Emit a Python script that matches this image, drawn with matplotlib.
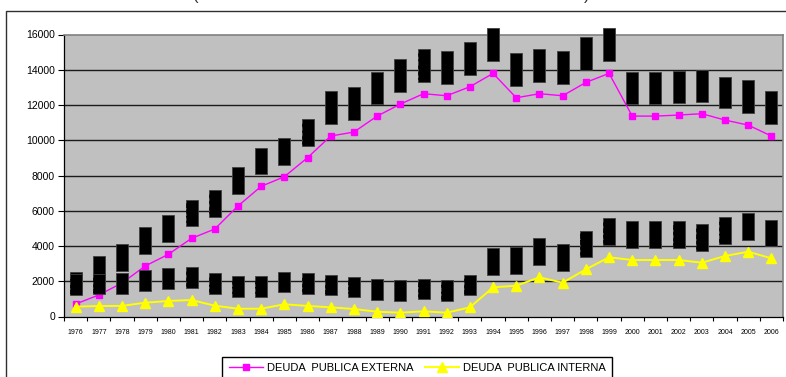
import matplotlib
matplotlib.use("Agg")
import matplotlib.pyplot as plt
from matplotlib.patches import Rectangle
from matplotlib.lines import Line2D

years = list(range(1976, 2007))
externa = [709, 1220, 1900, 2864, 3528, 4435, 4963, 6268, 7385, 7930, 9010,
           10240, 10465, 11370, 12050, 12640, 12525, 13035, 13795, 12410,
           12640, 12525, 13280, 13795, 11370, 11370, 11430, 11505, 11145,
           10860, 10240]
interna = [560, 595, 600, 783, 880, 936, 613, 442, 442, 692, 600, 520, 425,
           272, 216, 295, 216, 520, 1656, 1747, 2223, 1917, 2677, 3358, 3205,
           3205, 3205, 3052, 3432, 3676, 3300]
series_names = ["DEUDA  PUBLICA EXTERNA", "DEUDA  PUBLICA INTERNA"]
yticks = [0, 2000, 4000, 6000, 8000, 10000, 12000, 14000, 16000]

plt.rcParams['font.family'] = ['Liberation Sans', 'DejaVu Sans']

W, H = 786, 377
fig = plt.figure(figsize=(W / 100, H / 100), dpi=100)
fig.patch.set_facecolor('white')

# outer chart border (only left/top visible)
fig.patches.append(Rectangle((6 / W, -0.2), 1.5, 1 - 11 / H + 0.2,
                             transform=fig.transFigure, fill=False,
                             ec='#303030', lw=1.0))
# cut-off title fragments
fig.text(196 / W, 1.0, "(", fontsize=12, va='baseline', ha='center', color='#333333')
fig.text(587 / W, 1.0, ")", fontsize=12, va='baseline', ha='center', color='#333333')

left, right = 64 / W, 783 / W
bottom, top = 1 - 316.5 / H, 1 - 34.5 / H
ax = fig.add_axes([left, bottom, right - left, top - bottom])
ax.set_facecolor('#C0C0C0')

ax.set_xlim(years[0] - 0.5, years[-1] + 0.5)
ax.set_ylim(yticks[0], yticks[-1])
ax.set_yticks(yticks)
ax.set_yticklabels([str(v) for v in yticks], fontsize=7.5)
ax.tick_params(axis='y', length=4.5, width=0.8, pad=2, direction='out')

# x: tick marks between categories, labels at centres
ax.set_xticks([y - 0.5 for y in years] + [years[-1] + 0.5])
ax.set_xticklabels([])
ax.tick_params(axis='x', which='major', length=3, width=0.8, direction='out')
ax.set_xticks(years, minor=True)
ax.set_xticklabels([str(y) for y in years], minor=True, fontsize=5,
                   family=['Liberation Sans Narrow', 'Liberation Sans'])
ax.tick_params(axis='x', which='minor', length=0, pad=9)

for v in yticks[1:-1]:
    ax.axhline(v, color='#1a1a1a', lw=1.0, zorder=1)

for s in ['top', 'right']:
    ax.spines[s].set_color('#808080')
    ax.spines[s].set_linewidth(1.2)
for s in ['left', 'bottom']:
    ax.spines[s].set_color('black')
    ax.spines[s].set_linewidth(0.9)

ax.plot(years, externa, color='#FF00FF', lw=1.0, marker='s', markersize=5,
        markerfacecolor='#FF00FF', markeredgecolor='#FF00FF', zorder=3)
ax.plot(years, interna, color='#FFFF00', lw=1.4, marker='^', markersize=7,
        markerfacecolor='#FFFF00', markeredgecolor='#FFFF00', zorder=3)

# data labels (rendered as black boxes in the original)
for series in (externa, interna):
    for yr, v in zip(years, series):
        ax.annotate(str(v), xy=(yr, v), xytext=(0, 13), textcoords='offset pixels',
                    rotation=90, ha='center', va='bottom', fontsize=8,
                    color='black', zorder=6, annotation_clip=False,
                    bbox=dict(boxstyle='square,pad=0.09', fc='black',
                              ec='#404040', lw=0.6))

handles = [
    Line2D([], [], color='#FF00FF', lw=1.0, marker='s', markersize=5),
    Line2D([], [], color='#FFFF00', lw=1.4, marker='^', markersize=7),
]
leg = fig.legend(handles, series_names, loc='upper left',
                 bbox_to_anchor=(222 / W, 1 - 356.7 / H), ncol=2,
                 fontsize=8, frameon=True, fancybox=False, framealpha=1,
                 edgecolor='black', handlelength=3.1, handletextpad=0.35,
                 columnspacing=1.0, borderpad=0.6, borderaxespad=0)
leg.get_frame().set_linewidth(1.0)

fig.savefig('out.png', dpi=100)
